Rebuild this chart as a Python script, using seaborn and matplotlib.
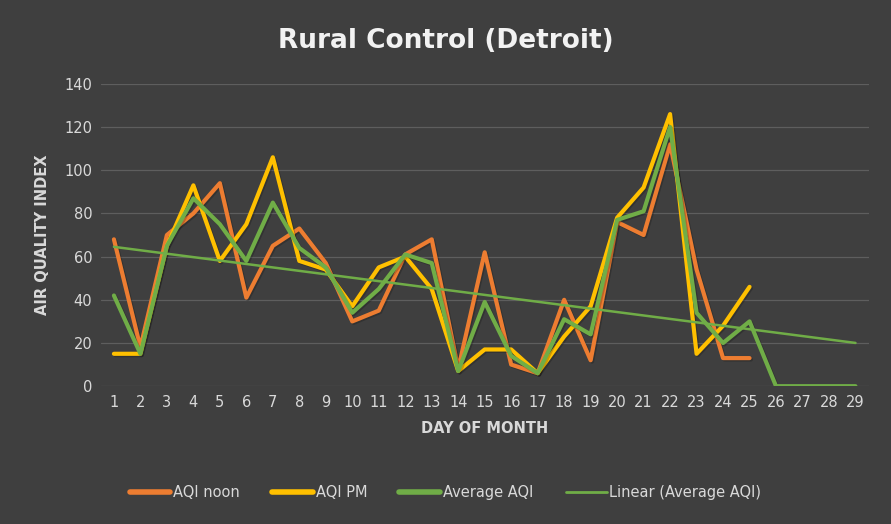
import pandas as pd
import matplotlib.pyplot as plt
import matplotlib.patheffects as pe
import seaborn as sns


# DATA

DAYS = list(range(1, 30))

AQI_NOON = [68, 18, 70, 80, 94, 41, 65, 73, 57, 30, 35, 61, 68, 8, 62,
            10, 6, 40, 12, 76, 70, 112, 54, 13, 13]
AQI_PM = [15, 15, 65, 93, 58, 75, 106, 58, 54, 37, 55, 60, 45, 7, 17,
          17, 6, 23, 37, 78, 92, 126, 15, 28, 46]
AVG_AQI = [42, 15, 65, 87, 75, 58, 85, 64, 55, 34, 45, 61, 57, 7, 39,
           14, 6, 31, 24, 77, 81, 120, 34, 20, 30, 0, 0, 0, 0]

SERIES = ["AQI noon", "AQI PM", "Average AQI"]
COLORS = ["#ED7D31", "#FFC000", "#70AD47"]

BG = "#3f3f3f"
TXT = "#d9d9d9"


def build_frame():
    rows = []
    for name, vals in zip(SERIES, [AQI_NOON, AQI_PM, AVG_AQI]):
        for d, v in zip(DAYS, vals):
            rows.append({"day": d, "aqi": v, "series": name})
    return pd.DataFrame(rows)


df = build_frame()

sns.set_style("dark")
fig = plt.figure(figsize=(8.91, 5.24), dpi=100, facecolor=BG)
ax = fig.add_axes([0.113, 0.263, 0.862, 0.577])
ax.set_facecolor(BG)

sns.lineplot(data=df, x="day", y="aqi", hue="series", hue_order=SERIES,
             palette=COLORS, linewidth=3, ax=ax, legend=False)

# soft shadow like the excel chart
shadow = [pe.SimpleLineShadow(offset=(1, -1), shadow_color="black", alpha=0.2), pe.Normal()]
for line in ax.get_lines():
    line.set_path_effects(shadow)

# trend line for the average series
avg = df[df["series"] == "Average AQI"]
sns.regplot(data=avg, x="day", y="aqi", ci=None, scatter=False, truncate=True,
            line_kws={"color": "#70AD47", "linewidth": 1.8}, ax=ax)

ax.set_xlim(0.5, 29.5)
ax.set_ylim(0, 140)
ax.set_xticks(DAYS)
ax.set_yticks(range(0, 141, 20))
ax.grid(axis="y", color="#5e5e5e", linewidth=0.9)
ax.grid(axis="x", visible=False)
ax.set_axisbelow(True)
for s in ax.spines.values():
    s.set_visible(False)
ax.tick_params(colors=TXT, labelsize=10.5, length=0, pad=6)

ax.set_xlabel("DAY OF MONTH", color=TXT, fontsize=10.5, fontweight="bold", labelpad=8)
ax.set_ylabel("AIR QUALITY INDEX", color=TXT, fontsize=10.5, fontweight="bold", labelpad=10)

fig.text(0.5, 0.922, "Rural Control (Detroit)", color="#f2f2f2", fontsize=19,
         fontweight="bold", ha="center", va="center")

handles = [plt.Line2D([], [], color=c, linewidth=4) for c in COLORS]
handles.append(plt.Line2D([], [], color="#70AD47", linewidth=2))
labels = SERIES + ["Linear (Average AQI)"]
fig.legend(handles, labels, loc="center", bbox_to_anchor=(0.5, 0.06), ncol=4,
           frameon=False, labelcolor=TXT, fontsize=10.5, handlelength=2.8,
           handletextpad=0.2, columnspacing=2.2)

fig.savefig("out.png", dpi=100, facecolor=BG)
